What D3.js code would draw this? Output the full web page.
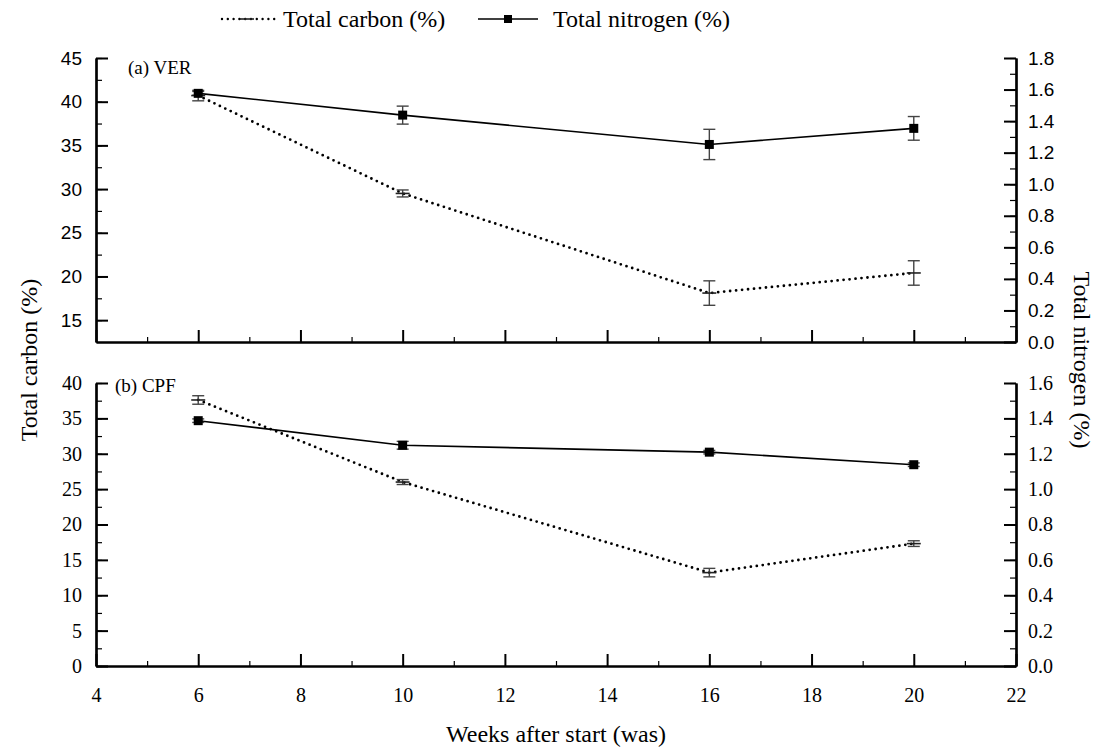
<!DOCTYPE html>
<html>
<head>
<meta charset="utf-8">
<script src="https://cdn.jsdelivr.net/npm/d3@7"></script>
<style>
  body { margin: 0; background: #fff; }
  svg { display: block; }
</style>
</head>
<body>
<div id="chart"></div>
<script>
// weeks after start
const weeks = [6, 10, 16, 20];

// (a) VER
const verCarbon = [40.7, 29.5, 18.1, 20.4];
const verCarbonErr = [0.6, 0.4, 1.4, 1.4];
const verNitrogen = [1.576, 1.438, 1.252, 1.354];
const verNitrogenErr = [0.012, 0.057, 0.096, 0.075];

// (b) CPF
const cpfCarbon = [37.6, 26.0, 13.2, 17.3];
const cpfCarbonErr = [0.6, 0.35, 0.6, 0.4];
const cpfNitrogen = [1.387, 1.248, 1.209, 1.138];
const cpfNitrogenErr = [0.01, 0.022, 0.01, 0.01];

const xTicks = [4, 6, 8, 10, 12, 14, 16, 18, 20, 22];

const SERIF = '"Liberation Serif", "Times New Roman", Times, serif';
const SANS = '"Liberation Sans", Arial, Helvetica, sans-serif';

const width = 1107, height = 750;
const svg = d3.select('#chart').append('svg')
    .attr('width', width)
    .attr('height', height);

const x = d3.scaleLinear().domain([4, 22]).range([96, 1016]);

// panel setup: left/right domains and pixel extent
const panels = [
    {
        label: '(a) VER', font: SANS, top: 58, bottom: 342,
        left: [12.5, 45], leftMajor: d3.range(15, 45.1, 5), leftMinor: d3.range(15, 45.1, 2.5),
        right: [0, 1.8], rightMajor: d3.range(0, 1.81, 0.2), rightMinor: d3.range(0, 1.81, 0.1),
        carbon: verCarbon, carbonErr: verCarbonErr, nitrogen: verNitrogen, nitrogenErr: verNitrogenErr,
        showX: false, labelX: 128, labelY: 74
    },
    {
        label: '(b) CPF', font: SERIF, top: 383, bottom: 666,
        left: [0, 40], leftMajor: d3.range(0, 40.1, 5), leftMinor: d3.range(0, 40.1, 2.5),
        right: [0, 1.6], rightMajor: d3.range(0, 1.61, 0.2), rightMinor: d3.range(0, 1.61, 0.1),
        carbon: cpfCarbon, carbonErr: cpfCarbonErr, nitrogen: cpfNitrogen, nitrogenErr: cpfNitrogenErr,
        showX: true, labelX: 115, labelY: 392
    }
];

function styleAxis(g) {
    g.select('.domain').attr('stroke', '#000').attr('stroke-width', 2.2);
    g.selectAll('.tick line').attr('stroke', '#000').attr('stroke-width', 2);
}

panels.forEach(p => {
    const yL = d3.scaleLinear().domain(p.left).range([p.bottom, p.top]);
    const yR = d3.scaleLinear().domain(p.right).range([p.bottom, p.top]);
    const fontSize = p.font === SANS ? 19 : 20;

    // minor ticks first
    const minorL = svg.append('g').attr('transform', 'translate(96,0)')
        .call(d3.axisLeft(yL).tickValues(p.leftMinor).tickSize(-6).tickSizeOuter(0).tickFormat(''));
    styleAxis(minorL);
    minorL.selectAll('.tick line').attr('stroke-width', 1.2);
    const minorR = svg.append('g').attr('transform', 'translate(1016,0)')
        .call(d3.axisRight(yR).tickValues(p.rightMinor).tickSize(-6).tickSizeOuter(0).tickFormat(''));
    styleAxis(minorR);
    minorR.selectAll('.tick line').attr('stroke-width', 1.2);
    const minorX = svg.append('g').attr('transform', `translate(0,${p.bottom})`)
        .call(d3.axisBottom(x).tickValues(d3.range(5, 22, 2)).tickSize(-5).tickSizeOuter(0).tickFormat(''));
    styleAxis(minorX);
    minorX.selectAll('.tick line').attr('stroke-width', 1.2);

    // major axes
    const gL = svg.append('g').attr('transform', 'translate(96,0)')
        .call(d3.axisLeft(yL).tickValues(p.leftMajor).tickSize(-12).tickSizeOuter(0).tickPadding(14)
            .tickFormat(d3.format('d')));
    styleAxis(gL);
    gL.selectAll('text').style('font-family', p.font).style('font-size', fontSize + 'px').attr('fill', '#000');

    const gR = svg.append('g').attr('transform', 'translate(1016,0)')
        .call(d3.axisRight(yR).tickValues(p.rightMajor).tickSize(-12).tickSizeOuter(0).tickPadding(12)
            .tickFormat(d3.format('.1f')));
    styleAxis(gR);
    gR.selectAll('text').style('font-family', p.font).style('font-size', fontSize + 'px').attr('fill', '#000');

    const gX = svg.append('g').attr('transform', `translate(0,${p.bottom})`)
        .call(d3.axisBottom(x).tickValues(xTicks).tickSize(-12).tickSizeOuter(0).tickPadding(22)
            .tickFormat(p.showX ? d3.format('d') : ''));
    styleAxis(gX);
    gX.selectAll('text').style('font-family', SERIF).style('font-size', '20px').attr('fill', '#000');

    svg.append('text')
        .attr('x', p.labelX).attr('y', p.labelY)
        .style('font-family', SERIF).style('font-size', '19px')
        .text(p.label);

    const plot = svg.append('g');

    // carbon (left axis), dotted
    const carbonPts = weeks.map((w, i) => ({ w, v: p.carbon[i], e: p.carbonErr[i] }));
    plot.append('path')
        .datum(carbonPts)
        .attr('fill', 'none')
        .attr('stroke', '#000')
        .attr('stroke-width', 2.8)
        .attr('stroke-linecap', 'round')
        .attr('stroke-dasharray', '0 6')
        .attr('d', d3.line().x(d => x(d.w)).y(d => yL(d.v)));

    // nitrogen (right axis), solid
    const nitroPts = weeks.map((w, i) => ({ w, v: p.nitrogen[i], e: p.nitrogenErr[i] }));
    plot.append('path')
        .datum(nitroPts)
        .attr('fill', 'none')
        .attr('stroke', '#000')
        .attr('stroke-width', 1.6)
        .attr('d', d3.line().x(d => x(d.w)).y(d => yR(d.v)));

    // error bars
    function errBars(pts, y) {
        const g = plot.append('g').attr('stroke', '#444').attr('stroke-width', 1.4);
        pts.forEach(d => {
            const cx = x(d.w), y1 = y(d.v + d.e), y2 = y(d.v - d.e);
            g.append('line').attr('x1', cx).attr('x2', cx).attr('y1', y1).attr('y2', y2);
            g.append('line').attr('x1', cx - 6).attr('x2', cx + 6).attr('y1', y1).attr('y2', y1);
            g.append('line').attr('x1', cx - 6).attr('x2', cx + 6).attr('y1', y2).attr('y2', y2);
        });
    }
    errBars(carbonPts, yL);
    errBars(nitroPts, yR);

    // carbon markers: short horizontal dash
    plot.selectAll(null).data(carbonPts).enter().append('line')
        .attr('x1', d => x(d.w) - 7).attr('x2', d => x(d.w) + 7)
        .attr('y1', d => yL(d.v)).attr('y2', d => yL(d.v))
        .attr('stroke', '#222').attr('stroke-width', 1.6);

    // nitrogen markers: filled square
    plot.selectAll(null).data(nitroPts).enter().append('rect')
        .attr('x', d => x(d.w) - 4.5).attr('y', d => yR(d.v) - 4.5)
        .attr('width', 9).attr('height', 9)
        .attr('fill', '#000');
});

// axis titles
svg.append('text')
    .attr('transform', 'translate(37,360) rotate(-90)')
    .attr('text-anchor', 'middle')
    .style('font-family', SERIF).style('font-size', '24px')
    .text('Total carbon (%)');

svg.append('text')
    .attr('transform', 'translate(1074,360) rotate(90)')
    .attr('text-anchor', 'middle')
    .style('font-family', SERIF).style('font-size', '24px')
    .text('Total nitrogen (%)');

svg.append('text')
    .attr('x', 556).attr('y', 742)
    .attr('text-anchor', 'middle')
    .style('font-family', SERIF).style('font-size', '24px')
    .text('Weeks after start (was)');

// legend
const legendY = 19;
const lg = svg.append('g');
lg.append('line')
    .attr('x1', 222).attr('x2', 276).attr('y1', legendY).attr('y2', legendY)
    .attr('stroke', '#000').attr('stroke-width', 2.4)
    .attr('stroke-linecap', 'round').attr('stroke-dasharray', '0 5.8');
lg.append('line')
    .attr('x1', 240).attr('x2', 254).attr('y1', legendY).attr('y2', legendY)
    .attr('stroke', '#222').attr('stroke-width', 1.6);
lg.append('text')
    .attr('x', 283).attr('y', legendY + 8)
    .style('font-family', SERIF).style('font-size', '24px')
    .text('Total carbon (%)');
lg.append('line')
    .attr('x1', 478).attr('x2', 538).attr('y1', legendY).attr('y2', legendY)
    .attr('stroke', '#000').attr('stroke-width', 1.6);
lg.append('rect')
    .attr('x', 504).attr('y', legendY - 4).attr('width', 8).attr('height', 8)
    .attr('fill', '#000');
lg.append('text')
    .attr('x', 553).attr('y', legendY + 8)
    .style('font-family', SERIF).style('font-size', '24px')
    .text('Total nitrogen (%)');
</script>
</body>
</html>
